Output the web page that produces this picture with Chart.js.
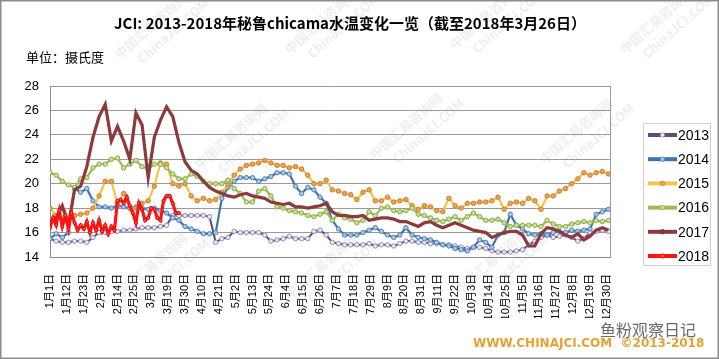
<!DOCTYPE html>
<html>
<head>
<meta charset="utf-8">
<script src="https://cdn.jsdelivr.net/npm/chart.js@4.4.1/dist/chart.umd.min.js"></script>
<style>
  html, body { margin: 0; padding: 0; background: #fff; }
  #wrap { width: 719px; height: 359px; position: relative; }
</style>
</head>
<body>
<div id="wrap"><canvas id="chicamaChart" width="719" height="359"></canvas></div>
<script>
// Chicama water temperature, every 4 days (2018: every 2 days)
const titleText = "JCI: 2013-2018年秘鲁chicama水温变化一览（截至2018年3月26日）";
const unitText = "单位：摄氏度";
const yearLabels = ["2013", "2014", "2015", "2016", "2017", "2018"];

const days = [0, 4, 8, 12, 16, 20, 24, 28, 32, 36, 40, 44, 48, 52, 56, 60, 64, 68, 72, 76,
  80, 84, 88, 92, 96, 100, 104, 108, 112, 116, 120, 124, 128, 132, 136, 140, 144, 148, 152, 156,
  160, 164, 168, 172, 176, 180, 184, 188, 192, 196, 200, 204, 208, 212, 216, 220, 224, 228, 232, 236,
  240, 244, 248, 252, 256, 260, 264, 268, 272, 276, 280, 284, 288, 292, 296, 300, 304, 308, 312, 316,
  320, 324, 328, 332, 336, 340, 344, 348, 352, 356, 360, 364];
const days2018 = [0, 2, 4, 6, 8, 10, 12, 14, 16, 18, 20, 22, 24, 26, 28, 30, 32, 34, 36, 38,
  40, 42, 44, 46, 48, 50, 52, 54, 56, 58, 60, 62, 64, 66, 68, 70, 72, 74, 76, 78, 80, 82, 84];

const t2013 = [15.5, 15.3, 15.2, 15.2, 15.3, 15.3, 15.2, 15.6, 16.0, 16.0,
  16.1, 16.1, 16.2, 16.2, 16.3, 16.4, 16.4, 16.4, 16.5, 16.6,
  17.4, 17.4, 17.4, 17.4, 17.4, 17.4, 17.3, 15.2, 15.5, 15.6,
  16.1, 16.0, 16.0, 16.0, 16.0, 15.8, 15.3, 15.4, 15.5, 15.7,
  15.5, 15.5, 15.5, 16.1, 16.2, 15.8, 15.2, 15.1, 15.0, 15.0,
  15.0, 15.0, 15.1, 14.9, 15.0, 15.0, 14.9, 15.1, 15.3, 15.3,
  15.2, 15.2, 15.1, 15.1, 15.0, 15.0, 14.9, 14.8, 14.7, 14.8,
  14.8, 14.7, 14.5, 14.4, 14.4, 14.4, 14.5, 14.6, 15.0, 15.3,
  15.6, 15.8, 15.6, 15.7, 15.8, 15.6, 15.3, 15.5, 16.0, 16.1,
  16.2, 16.1];
const t2014 = [15.5, 15.9, 15.6, 16.0, 19.6, 19.3, 19.6, 18.6, 18.1, 18.1,
  18.0, 18.2, 18.1, 18.0, 18.1, 18.0, 17.9, 18.0, 17.8, 17.6,
  17.2, 17.0, 16.5, 16.3, 16.1, 15.9, 15.9, 16.0, 18.8, 19.7,
  20.2, 20.5, 20.5, 20.5, 20.2, 20.4, 20.6, 20.9, 20.9, 20.8,
  19.8, 19.2, 19.7, 19.5, 18.9, 18.4, 17.0, 16.3, 15.8, 15.8,
  15.8, 16.0, 16.2, 16.4, 16.1, 15.8, 15.6, 15.8, 16.4, 15.8,
  15.6, 15.5, 15.4, 15.2, 15.0, 14.9, 14.7, 14.6, 14.5, 14.8,
  15.4, 15.2, 14.8, 15.8, 16.0, 17.5, 16.6, 16.3, 15.9, 15.8,
  15.9, 15.8, 16.0, 16.1, 16.0, 16.2, 16.1, 16.2, 16.3, 17.5,
  17.7, 17.9];
const t2015 = [18.0, 17.4, 17.1, 17.2, 17.4, 17.5, 17.6, 18.0, 19.0, 20.2,
  20.2, 18.4, 19.2, 18.0, 18.0, 18.4, 18.6, 19.8, 21.7, 21.6,
  20.0, 19.8, 20.0, 19.0, 18.6, 18.8, 18.6, 18.7, 19.3, 19.9,
  20.7, 21.2, 21.5, 21.6, 21.7, 21.9, 21.7, 21.5, 21.5, 21.3,
  21.4, 21.2, 20.7, 20.0, 20.0, 20.3, 19.5, 19.4, 19.2, 19.1,
  18.7, 19.3, 19.5, 18.6, 18.6, 18.9, 18.5, 18.6, 18.7, 18.2,
  17.9, 18.2, 18.1, 17.8, 17.7, 18.8, 18.2, 18.0, 18.4, 18.4,
  18.5, 18.5, 18.6, 18.9, 17.9, 18.4, 18.5, 18.4, 18.8, 18.6,
  17.9, 19.0, 19.0, 19.4, 19.6, 20.0, 20.4, 20.9, 20.7, 20.9,
  21.0, 20.8];
const t2016 = [20.9, 20.7, 20.2, 19.9, 19.7, 20.4, 20.5, 21.3, 21.6, 21.6,
  22.0, 22.1, 21.3, 21.6, 21.9, 21.4, 21.2, 21.6, 21.6, 21.3,
  20.8, 20.4, 20.4, 20.8, 20.6, 20.2, 20.0, 20.0, 20.0, 20.3,
  19.6, 19.2, 18.5, 18.5, 19.4, 19.6, 19.0, 18.1, 18.0, 17.8,
  17.7, 17.6, 17.4, 17.3, 17.5, 17.7, 17.0, 17.5, 17.2, 17.1,
  16.8, 17.0, 17.7, 17.4, 18.0, 18.1, 17.8, 17.7, 17.8, 18.0,
  17.5, 17.4, 17.2, 17.0, 16.9, 17.1, 17.3, 17.0, 17.3, 17.6,
  17.3, 17.0, 17.0, 17.1, 16.8, 16.5, 16.6, 16.6, 16.6, 16.6,
  16.5, 17.0, 16.7, 16.5, 16.5, 16.7, 16.8, 16.9, 16.8, 17.0,
  16.9, 17.0];
const t2017 = [16.9, 17.2, 18.2, 16.6, 19.5, 19.8, 21.4, 23.8, 25.5, 26.5,
  23.5, 24.7, 23.5, 22.0, 25.8, 24.8, 20.5, 23.8, 25.2, 26.3,
  25.5, 23.4, 21.8, 21.1, 20.8, 20.2, 19.7, 19.4, 19.2, 19.0,
  18.9, 19.1, 19.2, 19.0, 18.9, 18.8, 18.5, 18.4, 18.3, 18.4,
  18.1, 18.1, 18.0, 18.1, 18.2, 18.4, 17.7, 17.4, 17.4, 17.3,
  17.3, 17.4, 17.0, 17.1, 17.2, 17.2, 17.1, 16.9, 16.9, 16.7,
  16.5, 16.8, 16.9, 16.6, 16.4, 16.6, 16.8, 16.6, 16.4, 16.2,
  16.1, 16.0, 15.6, 15.8, 16.0, 16.1, 16.1, 15.8, 14.9, 14.9,
  15.9, 16.4, 16.3, 16.1, 15.8, 15.6, 15.9, 15.4, 15.7, 16.2,
  16.4, 16.2];
const t2018 = [16.4, 17.2, 16.6, 17.8, 16.5, 17.4, 16.3, 17.6, 16.8, 16.2,
  16.6, 16.3, 16.9, 16.0, 16.8, 16.2, 17.0, 16.1, 16.6, 15.9,
  16.5, 16.2, 18.6, 18.7, 18.4, 18.9, 18.2, 17.6, 16.8, 18.4,
  17.9, 17.0, 17.2, 18.0, 17.9, 17.2, 17.0, 18.6, 19.0, 19.0,
  18.4, 17.6, 17.6];

const yTicks = { min: 14, max: 28, step: 2 };
const xTickStep = 11;

function toPoints(xs, ys) {
  return xs.map((x, i) => ({ x: x, y: ys[i] }));
}

function dayLabel(v) {
  const d = new Date(2018, 0, 1 + v);
  return (d.getMonth() + 1) + "月" + d.getDate() + "日";
}

const baseFont = "'Liberation Sans', 'Noto Sans CJK SC', sans-serif";
const cjkFont = "'Noto Sans CJK SC', 'Liberation Sans', sans-serif";

// title, unit, legend box, footer and frame
const decorPlugin = {
  id: "decor",
  beforeDatasetsDraw(chart) {
    const ctx = chart.ctx;
    ctx.save();
    ctx.fillStyle = "rgba(150,150,150,0.16)";
    ctx.font = "bold 13px " + cjkFont;
    const marks = [[120, 60], [290, 55], [455, 50], [625, 55], [200, 170], [375, 160], [545, 165], [120, 300], [290, 300], [460, 295]];
    marks.forEach(([x, y]) => {
      ctx.save();
      ctx.translate(x, y);
      ctx.rotate(-0.72);
      ctx.fillText("中国汇易咨询网", 0, 0);
      ctx.fillText("ChinaJCI.COM", 14, 18);
      ctx.restore();
    });
    ctx.restore();
  },
  afterDraw(chart) {
    const ctx = chart.ctx;
    const a = chart.chartArea;
    ctx.save();

    // plot frame right edge
    ctx.strokeStyle = "#9a9a9a";
    ctx.lineWidth = 1;
    ctx.beginPath();
    ctx.moveTo(Math.round(a.right) + 0.5, a.top);
    ctx.lineTo(Math.round(a.right) + 0.5, a.bottom);
    ctx.stroke();

    // title and unit
    ctx.fillStyle = "#000";
    ctx.textBaseline = "middle";
    ctx.textAlign = "center";
    ctx.font = "bold 15px " + cjkFont;
    ctx.fillText(titleText, 350, 23);
    ctx.textAlign = "left";
    ctx.font = "13px " + cjkFont;
    ctx.fillText(unitText, 26, 57);

    // legend
    ctx.strokeStyle = "#d0d0d0";
    ctx.lineWidth = 1;
    ctx.strokeRect(643.5, 123.5, 67, 142);
    chart.data.datasets.forEach((ds, i) => {
      const y = 135 + i * 24.2;
      ctx.strokeStyle = ds.borderColor;
      ctx.lineWidth = 4;
      ctx.beginPath();
      ctx.moveTo(648, y);
      ctx.lineTo(677, y);
      ctx.stroke();
      ctx.beginPath();
      ctx.arc(662.5, y, 2.2, 0, Math.PI * 2);
      ctx.fillStyle = ds.pointBackgroundColor;
      ctx.fill();
      ctx.lineWidth = 0.8;
      ctx.strokeStyle = ds.pointBorderColor;
      ctx.stroke();
      ctx.fillStyle = "#000";
      ctx.font = "14px " + baseFont;
      ctx.textAlign = "left";
      ctx.fillText(ds.label, 678, y + 1);
    });

    // footer
    ctx.fillStyle = "#6a6a6a";
    ctx.font = "16px " + cjkFont;
    ctx.fillText("鱼粉观察日记", 600, 330);
    ctx.fillStyle = "#e5a233";
    ctx.font = "bold 12px 'DejaVu Sans', sans-serif";
    ctx.fillText("WWW.CHINAJCI.COM  ©2013-2018", 473, 344);

    // outer frame
    ctx.strokeStyle = "#8c8c8c";
    ctx.lineWidth = 1.5;
    ctx.strokeRect(0.75, 0.75, 717.5, 357.5);
    ctx.restore();
  }
};

const styles = [
  { line: "#5f4b7a", fill: "#ece8f3", edge: "#9a88b8", width: 2, r: 2.2 },
  { line: "#3f73ad", fill: "#a9c6e6", edge: "#4f81bd", width: 2.2, r: 2.2 },
  { line: "#f6c344", fill: "#f0a552", edge: "#c77a30", width: 2.2, r: 2.2 },
  { line: "#9bbb59", fill: "#cbe19a", edge: "#8aaa45", width: 2.2, r: 2.2 },
  { line: "#8c3a3c", fill: "#8c3a3c", edge: "#7a2f31", width: 3.2, r: 0 },
  { line: "#ff1414", fill: "#ff5a5a", edge: "#e00000", width: 3.2, r: 1.6 }
];
const seriesData = [
  toPoints(days, t2013),
  toPoints(days, t2014),
  toPoints(days, t2015),
  toPoints(days, t2016),
  toPoints(days, t2017),
  toPoints(days2018, t2018)
];

const ctx = document.getElementById("chicamaChart").getContext("2d");
new Chart(ctx, {
  type: "line",
  data: {
    datasets: yearLabels.map((label, i) => ({
      label: label,
      data: seriesData[i],
      borderColor: styles[i].line,
      borderWidth: styles[i].width,
      pointRadius: styles[i].r,
      pointBackgroundColor: styles[i].fill,
      pointBorderColor: styles[i].edge,
      pointBorderWidth: 1,
      tension: 0,
      order: yearLabels.length - i
    }))
  },
  options: {
    responsive: false,
    animation: false,
    events: [],
    layout: { padding: { left: 10, right: 109, top: 86, bottom: 41 } },
    plugins: {
      legend: { display: false },
      tooltip: { enabled: false }
    },
    scales: {
      x: {
        type: "linear",
        min: 0,
        max: 365,
        bounds: "data",
        afterFit: (scale) => { scale.height = 61; },
        afterBuildTicks: (scale) => {
          scale.ticks = scale.ticks.filter((t) => t.value % xTickStep === 0 && t.value < 365);
        },
        grid: { display: false },
        border: { display: true, color: "#8a8a8a" },
        ticks: {
          stepSize: xTickStep,
          autoSkip: false,
          maxRotation: 90,
          minRotation: 90,
          padding: 9,
          color: "#000",
          font: { size: 11, family: baseFont },
          callback: (v) => dayLabel(v)
        }
      },
      y: {
        min: yTicks.min,
        max: yTicks.max,
        afterFit: (scale) => { scale.width = 40; },
        grid: { color: "#9a9a9a", drawTicks: false },
        border: { display: true, color: "#8a8a8a" },
        ticks: {
          stepSize: yTicks.step,
          padding: 11,
          color: "#000",
          font: { size: 13, family: baseFont }
        }
      }
    }
  },
  plugins: [decorPlugin]
});
</script>
</body>
</html>
